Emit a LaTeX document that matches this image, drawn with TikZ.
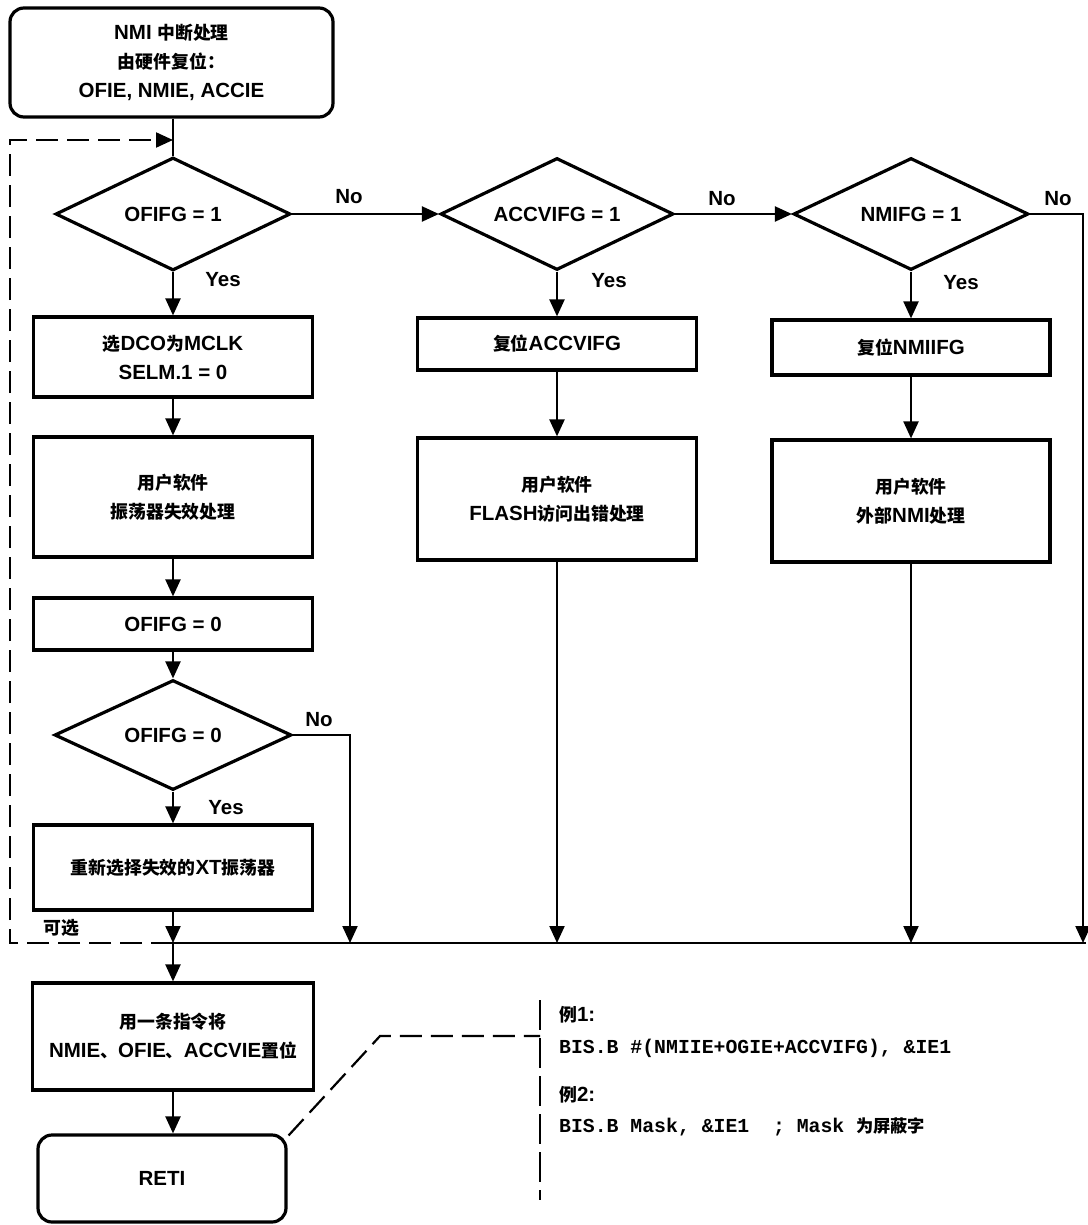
\documentclass[tikz,border=0pt]{standalone}
\usepackage{fontspec}
\setmainfont{Liberation Sans}
\newfontfamily\cjk[Scale=0.87]{Noto Sans CJK SC}
\newfontfamily\code{Liberation Mono}
\usetikzlibrary{shapes.geometric,arrows.meta}
\newcommand\lbl{\fontsize{20.5}{29}\selectfont\bfseries}
\newcommand\codefont{\code\fontsize{19.8}{24}\selectfont\bfseries}
\begin{document}
\begin{tikzpicture}[x=1pt,y=-1pt,
  box/.style={draw, line width=3.2pt, inner sep=0pt, align=center, font=\lbl, rectangle},
  rbox/.style={box, rounded corners=14pt},
  dia/.style={draw, diamond, aspect=2.08, line width=3.2pt, inner sep=0pt, align=center, font=\lbl},
  conn/.style={line width=2.2pt},
  arr/.style={conn, -{Triangle[length=17pt,width=15pt]}},
  dashline/.style={line width=2.2pt, dash pattern=on 22pt off 9pt},
  lab/.style={font=\lbl, inner sep=0pt},
  txt/.style={font=\codefont, inner sep=0pt, anchor=west}
]
\path[use as bounding box] (0,0) rectangle (1087,1225);

% nodes
\node[rbox, minimum width=323pt, minimum height=109pt] (start) at (171.5,62.5)
  {NMI {\cjk 中断处理}\\{\cjk 由硬件复位：}\\OFIE, NMIE, ACCIE};
\node[dia, minimum width=235pt, minimum height=113pt] (d1) at (173,214) {OFIFG = 1};
\node[dia, minimum width=233pt, minimum height=112pt] (d2) at (557,214) {ACCVIFG = 1};
\node[dia, minimum width=235pt, minimum height=112pt] (d3) at (911,214) {NMIFG = 1};

\node[box, minimum width=279pt, minimum height=80pt] (b1) at (173,357)
  {{\cjk 选}DCO{\cjk 为}MCLK\\SELM.1 = 0};
\node[box, minimum width=279pt, minimum height=120pt] (b2) at (173,497)
  {\cjk 用户软件\\\cjk 振荡器失效处理};
\node[box, minimum width=279pt, minimum height=52pt] (b3) at (173,624) {OFIFG = 0};
\node[dia, minimum width=237pt, minimum height=110pt] (d4) at (173,735) {OFIFG = 0};
\node[box, minimum width=279pt, minimum height=85pt] (b4) at (173,867.5)
  {{\cjk 重新选择失效的}XT{\cjk 振荡器}};

\node[box, minimum width=279pt, minimum height=52pt] (a1) at (557,344)
  {{\cjk 复位}ACCVIFG};
\node[box, minimum width=279pt, minimum height=122pt] (a2) at (557,499)
  {{\cjk 用户软件}\\FLASH{\cjk 访问出错处理}};
\node[box, minimum width=278pt, minimum height=55pt] (n1) at (911,347.5)
  {{\cjk 复位}NMIIFG};
\node[box, minimum width=278pt, minimum height=122pt] (n2) at (911,501)
  {{\cjk 用户软件}\\{\cjk 外部}NMI{\cjk 处理}};

\node[box, minimum width=281pt, minimum height=107pt] (b5) at (173,1036.5)
  {{\cjk 用一条指令将}\\NMIE{\cjk 、}OFIE{\cjk 、}ACCVIE{\cjk 置位}};
\node[rbox, minimum width=248pt, minimum height=87pt] (reti) at (162,1178.5) {RETI};

% coordinates
\coordinate (mL) at (173,943);
\coordinate (mR) at (1083,943);
\coordinate (no4) at (350,943);
\coordinate (loopin) at (173,140);
\coordinate (dl) at (10,140);
\coordinate (c1) at (380,1036);
\coordinate (c2) at (540,1036);
\coordinate (v1) at (540,1000);
\coordinate (v2) at (540,1200);

% connectors
\draw[conn] (start.south -| d1.north) -- (d1.north);
\draw[arr] (d1.east) -- (d2.west);
\draw[arr] (d2.east) -- (d3.west);
\draw[arr] (d3.east) -| (mR);
\draw[arr] (d1.south) -- (b1.north);
\draw[arr] (b1.south) -- (b2.north);
\draw[arr] (b2.south) -- (b3.north);
\draw[arr] (b3.south) -- (d4.north);
\draw[arr] (d4.south) -- (b4.north);
\draw[arr] (b4.south) -- (mL);
\draw[arr] (d4.east) -| (no4);
\draw[arr] (d2.south) -- (a1.north);
\draw[arr] (a1.south) -- (a2.north);
\draw[arr] (a2.south) -- (a2.south |- mL);
\draw[arr] (d3.south) -- (n1.north);
\draw[arr] (n1.south) -- (n2.north);
\draw[arr] (n2.south) -- (n2.south |- mL);
\draw[conn] (mL) -- (1086,943);
\draw[arr] (mL) -- (b5.north);
\draw[arr] (b5.south) -- (b5.south |- reti.north);

% optional dashed loop
\draw[dashline, -{Triangle[length=17pt,width=15pt]}] (mL) -| (dl) -- (loopin);

% RETI dashed callout
\draw[dashline] (reti.north east) ++(1,2) -- (c1) -- (c2);
\draw[line width=2.6pt, dash pattern=on 30pt off 8pt] (v1) -- (v2);

% labels
\node[lab] (no1) at (349,197) {No};
\node[lab] (no2) at (722,199) {No};
\node[lab] (no3) at (1058,199) {No};
\node[lab] (no4l) at (319,720) {No};
\node[lab] (y1) at (223,280) {Yes};
\node[lab] (y2) at (609,281) {Yes};
\node[lab] (y3) at (961,283) {Yes};
\node[lab] (y4) at (226,808) {Yes};
\node[lab] (opt) at (61,928) {\cjk 可选};

% example text
\node[lab, anchor=west] (e1) at (559,1015) {{\cjk 例}1:};
\node[txt] (e1c) at (559,1048) {BIS.B \#(NMIIE+OGIE+ACCVIFG), \&IE1};
\node[lab, anchor=west] (e2) at (559,1095) {{\cjk 例}2:};
\node[txt] (e2c) at (559,1127) {BIS.B Mask, \&IE1\ \ ; Mask {\cjk 为屏蔽字}};
\end{tikzpicture}
\end{document}
